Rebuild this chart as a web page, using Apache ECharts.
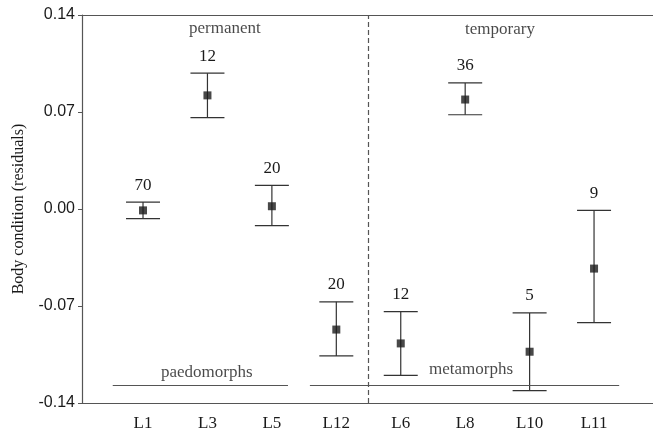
<!DOCTYPE html>
<html>
<head>
<meta charset="utf-8">
<script src="https://cdn.jsdelivr.net/npm/echarts@6/dist/echarts.min.js"></script>
<style>
html,body{margin:0;padding:0;background:#fff;}
#chart{width:653px;height:437px;}
</style>
</head>
<body>
<div id="chart"></div>
<script>
// ---- data ----
const categories = ['L1', 'L3', 'L5', 'L12', 'L6', 'L8', 'L10', 'L11'];
const means      = [-0.001, 0.082, 0.002, -0.087, -0.097, 0.079, -0.103, -0.043];
const upper      = [0.005, 0.098, 0.017, -0.067, -0.074, 0.091, -0.075, -0.001];
const lower      = [-0.007, 0.066, -0.012, -0.106, -0.120, 0.068, -0.131, -0.082];
const sampleSizes = [70, 12, 20, 20, 12, 36, 5, 9];
const yTicks = [-0.14, -0.07, 0.00, 0.07, 0.14];
const habitatLabels = ['permanent', 'temporary'];
const morphLabels = ['paedomorphs', 'metamorphs'];
const habitatDivider = 4.5;                 // between L12 and L6
const morphSpans = [[0.53, 3.25], [3.59, 8.39]];
const morphLineLevel = -0.1275;

const positions = categories.map((c, i) => i + 1);
const errData = positions.map((p, i) => [p, lower[i], upper[i], sampleSizes[i]]);
const meanData = positions.map((p, i) => [p, means[i]]);

const serif = '"Liberation Serif", "DejaVu Serif", serif';
const sans = '"Liberation Sans", Arial, sans-serif';
const axisCol = '#555';
const inkCol = '#333';
const textCol = '#1a1a1a';

const chart = echarts.init(document.getElementById('chart'), null, {renderer: 'canvas'});
chart.setOption({
  animation: false,
  backgroundColor: '#fff',
  grid: {left: 82, right: 0, top: 15, bottom: 34},
  xAxis: [{
    type: 'value', min: 0.053, max: 8.915,
    splitLine: {show: false},
    axisLine: {onZero: false, lineStyle: {color: axisCol, width: 1.2}},
    axisTick: {show: false},
    axisLabel: {
      customValues: positions,
      formatter: v => categories[Math.round(v) - 1] || '',
      fontFamily: serif, fontSize: 17, color: textCol, margin: 12
    }
  }, {
    type: 'value', position: 'top', min: 0.053, max: 8.915,
    splitLine: {show: false},
    axisLine: {show: true, onZero: false, lineStyle: {color: axisCol, width: 1.2}},
    axisTick: {show: false}, axisLabel: {show: false}
  }],
  yAxis: {
    type: 'value', min: -0.14, max: 0.14, interval: 0.07,
    name: 'Body condition (residuals)', nameLocation: 'middle', nameGap: 55,
    nameTextStyle: {fontFamily: serif, fontSize: 16, color: textCol},
    splitLine: {show: false},
    axisLine: {show: true, onZero: false, lineStyle: {color: axisCol, width: 1.2}},
    axisTick: {show: true, inside: false, length: 4, lineStyle: {color: axisCol}},
    axisLabel: {
      customValues: yTicks,
      formatter: v => (Math.abs(v) < 1e-9 ? 0 : v).toFixed(2),
      fontFamily: sans, fontSize: 16, color: textCol, margin: 7
    }
  },
  series: [
    {
      type: 'custom',
      xAxisIndex: 0,
      data: errData,
      renderItem: function (params, api) {
        const x = api.value(0);
        const top = api.coord([x, api.value(2)]);
        const bot = api.coord([x, api.value(1)]);
        const cw = 17;
        const st = {stroke: inkCol, lineWidth: 1.2};
        return {
          type: 'group',
          children: [
            {type: 'line', shape: {x1: top[0], y1: top[1], x2: bot[0], y2: bot[1]}, style: st},
            {type: 'line', shape: {x1: top[0] - cw, y1: top[1], x2: top[0] + cw, y2: top[1]}, style: st},
            {type: 'line', shape: {x1: bot[0] - cw, y1: bot[1], x2: bot[0] + cw, y2: bot[1]}, style: st},
            {type: 'text', x: top[0], y: top[1] - 17,
             style: {text: String(api.value(3)), fill: textCol, font: '17px ' + serif,
                     align: 'center', verticalAlign: 'middle'}}
          ]
        };
      },
      markLine: {
        silent: true, symbol: 'none',
        label: {show: false},
        data: [
          [{coord: [morphSpans[0][0], morphLineLevel]}, {coord: [morphSpans[0][1], morphLineLevel]}],
          [{coord: [morphSpans[1][0], morphLineLevel]}, {coord: [morphSpans[1][1], morphLineLevel]}]
        ],
        lineStyle: {color: axisCol, width: 1.2, type: 'solid'}
      },
      z: 3
    },
    {
      type: 'scatter',
      xAxisIndex: 0,
      data: meanData,
      symbol: 'rect', symbolSize: 8,
      itemStyle: {color: '#1a1a1a'},
      z: 4,
      markLine: {
        silent: true, symbol: 'none', label: {show: false},
        data: [{xAxis: habitatDivider}],
        lineStyle: {color: axisCol, width: 1.2, type: [5, 3]}
      }
    },
    {
      type: 'scatter',
      xAxisIndex: 0,
      symbolSize: 0,
      silent: true,
      data: [
        {name: habitatLabels[0], value: [2.27, 0.1305]},
        {name: habitatLabels[1], value: [6.54, 0.1298]},
        {name: morphLabels[0], value: [1.99, -0.1177]},
        {name: morphLabels[1], value: [6.09, -0.1155]}
      ],
      label: {
        show: true, position: 'inside', formatter: p => p.name,
        fontFamily: serif, fontSize: 17, color: textCol
      }
    }
  ]
});
</script>
</body>
</html>
